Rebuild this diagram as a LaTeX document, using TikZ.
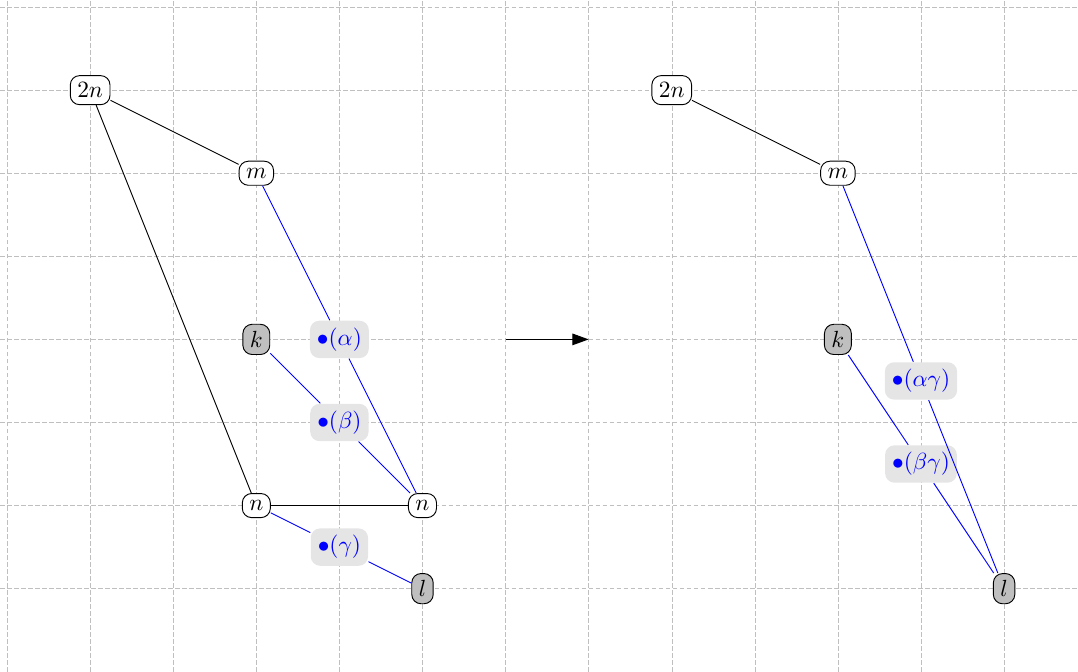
\documentclass[tikz,border=0pt]{standalone}
\usepackage{tikz}
\usetikzlibrary{arrows.meta}

\begin{document}
\begin{tikzpicture}
  [x=1.25cm,y=1.25cm,
   every node/.style={draw,rounded corners,fill=white,inner sep=3pt},
   gnode/.style={fill=gray!50},
   lab/.style={draw=none,fill=gray!20,text=blue,rounded corners=4pt}]
  \useasboundingbox (-0.085,0) rectangle (12.89,8.085);
  \draw[gray!50,very thin,dash pattern=on 2pt off 1pt,step=1.25cm] (-0.085,0) grid (12.89,8.085);

  % before
  \node (l2n) at (1,7) {$2n$};
  \node (lm) at (3,6) {$m$};
  \node[gnode] (lk) at (3,4) {$k$};
  \node[lab] (la) at (4,4) {$\bullet(\alpha)$};
  \node[lab] (lb) at (4,3) {$\bullet(\beta)$};
  \node (ln1) at (3,2) {$n$};
  \node (ln2) at (5,2) {$n$};
  \node[lab] (lg) at (4,1.5) {$\bullet(\gamma)$};
  \node[gnode] (ll) at (5,1) {$l$};

  \foreach \from/\to in {l2n/lm,l2n/ln1,ln1/ln2}
    \draw (\from) -- (\to);
  \foreach \from/\to in {lm/la,la/ln2,lk/lb,lb/ln2,ln1/lg,lg/ll}
    \draw[blue] (\from) -- (\to);

  \coordinate (a1) at (6,4);
  \coordinate (a2) at (7,4);
  \draw[-{Triangle[length=7pt,width=5pt]}] (a1) -- (a2);

  % after
  \node (r2n) at (8,7) {$2n$};
  \node (rm) at (10,6) {$m$};
  \node[gnode] (rk) at (10,4) {$k$};
  \node[lab] (rag) at (11,3.5) {$\bullet(\alpha\gamma)$};
  \node[lab] (rbg) at (11,2.5) {$\bullet(\beta\gamma)$};
  \node[gnode] (rl) at (12,1) {$l$};

  \draw (r2n) -- (rm);
  \foreach \from/\to in {rm/rag,rag/rl,rk/rbg,rbg/rl}
    \draw[blue] (\from) -- (\to);
\end{tikzpicture}
\end{document}
